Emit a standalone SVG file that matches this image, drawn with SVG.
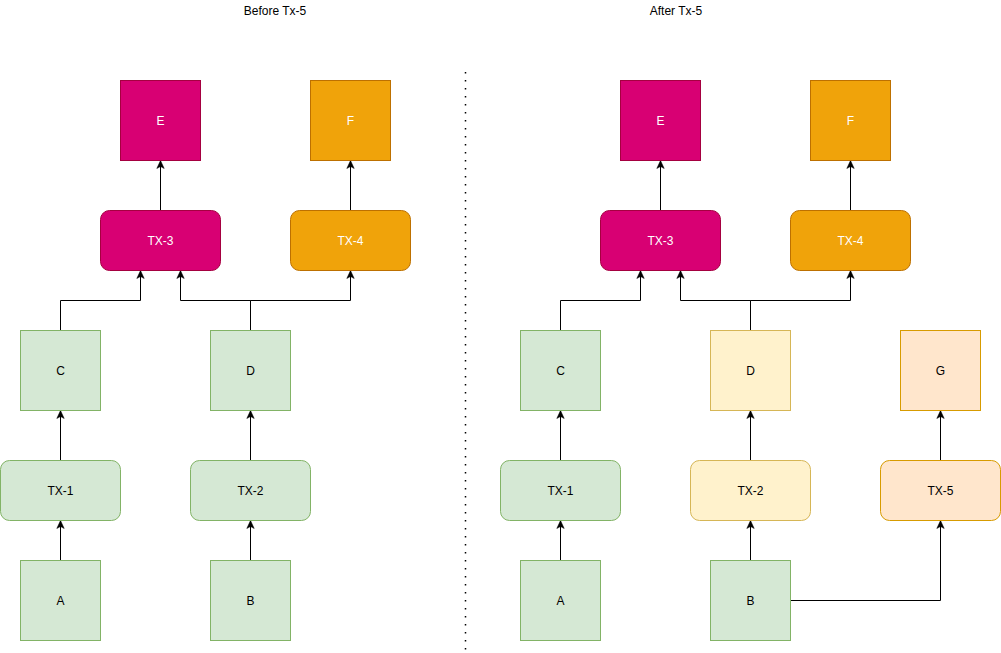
<svg xmlns="http://www.w3.org/2000/svg" width="1001" height="653" viewBox="0 0 1001 653">
<style>
text{font-family:"Liberation Sans",Arial,Helvetica,sans-serif;font-size:12px;text-anchor:middle;dominant-baseline:central;fill:#000}
.w{fill:#fff}
.green{fill:#d5e8d4;stroke:#82b366}
.yellow{fill:#fff2cc;stroke:#d6b656}
.orange{fill:#ffe6cc;stroke:#d79b00}
.pink{fill:#d80073;stroke:#a50040}
.amber{fill:#f0a30a;stroke:#bd7000}
.edge{fill:none;stroke:#000;stroke-width:1;marker-end:url(#arr)}
</style>
<defs>
<marker id="arr" markerUnits="userSpaceOnUse" markerWidth="8" markerHeight="9" viewBox="0 0 8 9" refX="8" refY="4.5" orient="auto">
<path d="M0,0.8 L8,4.5 L0,8.2 L2,4.5 Z" fill="#000" stroke="#000" stroke-width="0.5"/>
</marker>
</defs>
<rect width="1001" height="653" fill="#fff"/>
<text x="275" y="11">Before Tx-5</text>
<text x="676" y="11">After Tx-5</text>
<line x1="465.5" y1="72" x2="465.5" y2="652" stroke="#000" stroke-width="1.5" stroke-dasharray="1.5 6.5"/>
<g transform="translate(0.5,0.5)">
<g id="connectors">
<path class="edge" d="M60,560 V520"/>
<path class="edge" d="M60,460 V410"/>
<path class="edge" d="M60,330 V300 H140 V270"/>
<path class="edge" d="M250,330 V300 H180 V270"/>
<path class="edge" d="M250,330 V300 H350 V270"/>
<path class="edge" d="M160,210 V160"/>
<path class="edge" d="M350,210 V160"/>
<path class="edge" d="M250,560 V520"/>
<path class="edge" d="M250,460 V410"/>
<path class="edge" d="M560,560 V520"/>
<path class="edge" d="M560,460 V410"/>
<path class="edge" d="M560,330 V300 H640 V270"/>
<path class="edge" d="M750,330 V300 H680 V270"/>
<path class="edge" d="M750,330 V300 H850 V270"/>
<path class="edge" d="M660,210 V160"/>
<path class="edge" d="M850,210 V160"/>
<path class="edge" d="M750,560 V520"/>
<path class="edge" d="M750,460 V410"/>
<path class="edge" d="M790,600 H940 V520"/>
<path class="edge" d="M940,460 V410"/>
</g>
<g id="L-E"><rect class="pink" x="120" y="80" width="80" height="80"/><text class="w" x="160" y="120">E</text></g>
<g id="L-F"><rect class="amber" x="310" y="80" width="80" height="80"/><text class="w" x="350" y="120">F</text></g>
<g id="L-TX3"><rect class="pink" x="100" y="210" width="120" height="60" rx="9"/><text class="w" x="160" y="240">TX-3</text></g>
<g id="L-TX4"><rect class="amber" x="290" y="210" width="120" height="60" rx="9"/><text class="w" x="350" y="240">TX-4</text></g>
<g id="L-C"><rect class="green" x="20" y="330" width="80" height="80"/><text x="60" y="370">C</text></g>
<g id="L-D"><rect class="green" x="210" y="330" width="80" height="80"/><text x="250" y="370">D</text></g>
<g id="L-TX1"><rect class="green" x="0" y="460" width="120" height="60" rx="9"/><text x="60" y="490">TX-1</text></g>
<g id="L-TX2"><rect class="green" x="190" y="460" width="120" height="60" rx="9"/><text x="250" y="490">TX-2</text></g>
<g id="L-A"><rect class="green" x="20" y="560" width="80" height="80"/><text x="60" y="600">A</text></g>
<g id="L-B"><rect class="green" x="210" y="560" width="80" height="80"/><text x="250" y="600">B</text></g>
<g id="R-E"><rect class="pink" x="620" y="80" width="80" height="80"/><text class="w" x="660" y="120">E</text></g>
<g id="R-F"><rect class="amber" x="810" y="80" width="80" height="80"/><text class="w" x="850" y="120">F</text></g>
<g id="R-TX3"><rect class="pink" x="600" y="210" width="120" height="60" rx="9"/><text class="w" x="660" y="240">TX-3</text></g>
<g id="R-TX4"><rect class="amber" x="790" y="210" width="120" height="60" rx="9"/><text class="w" x="850" y="240">TX-4</text></g>
<g id="R-C"><rect class="green" x="520" y="330" width="80" height="80"/><text x="560" y="370">C</text></g>
<g id="R-D"><rect class="yellow" x="710" y="330" width="80" height="80"/><text x="750" y="370">D</text></g>
<g id="R-G"><rect class="orange" x="900" y="330" width="80" height="80"/><text x="940" y="370">G</text></g>
<g id="R-TX1"><rect class="green" x="500" y="460" width="120" height="60" rx="9"/><text x="560" y="490">TX-1</text></g>
<g id="R-TX2"><rect class="yellow" x="690" y="460" width="120" height="60" rx="9"/><text x="750" y="490">TX-2</text></g>
<g id="R-TX5"><rect class="orange" x="880" y="460" width="120" height="60" rx="9"/><text x="940" y="490">TX-5</text></g>
<g id="R-A"><rect class="green" x="520" y="560" width="80" height="80"/><text x="560" y="600">A</text></g>
<g id="R-B"><rect class="green" x="710" y="560" width="80" height="80"/><text x="750" y="600">B</text></g>
</g>
</svg>
